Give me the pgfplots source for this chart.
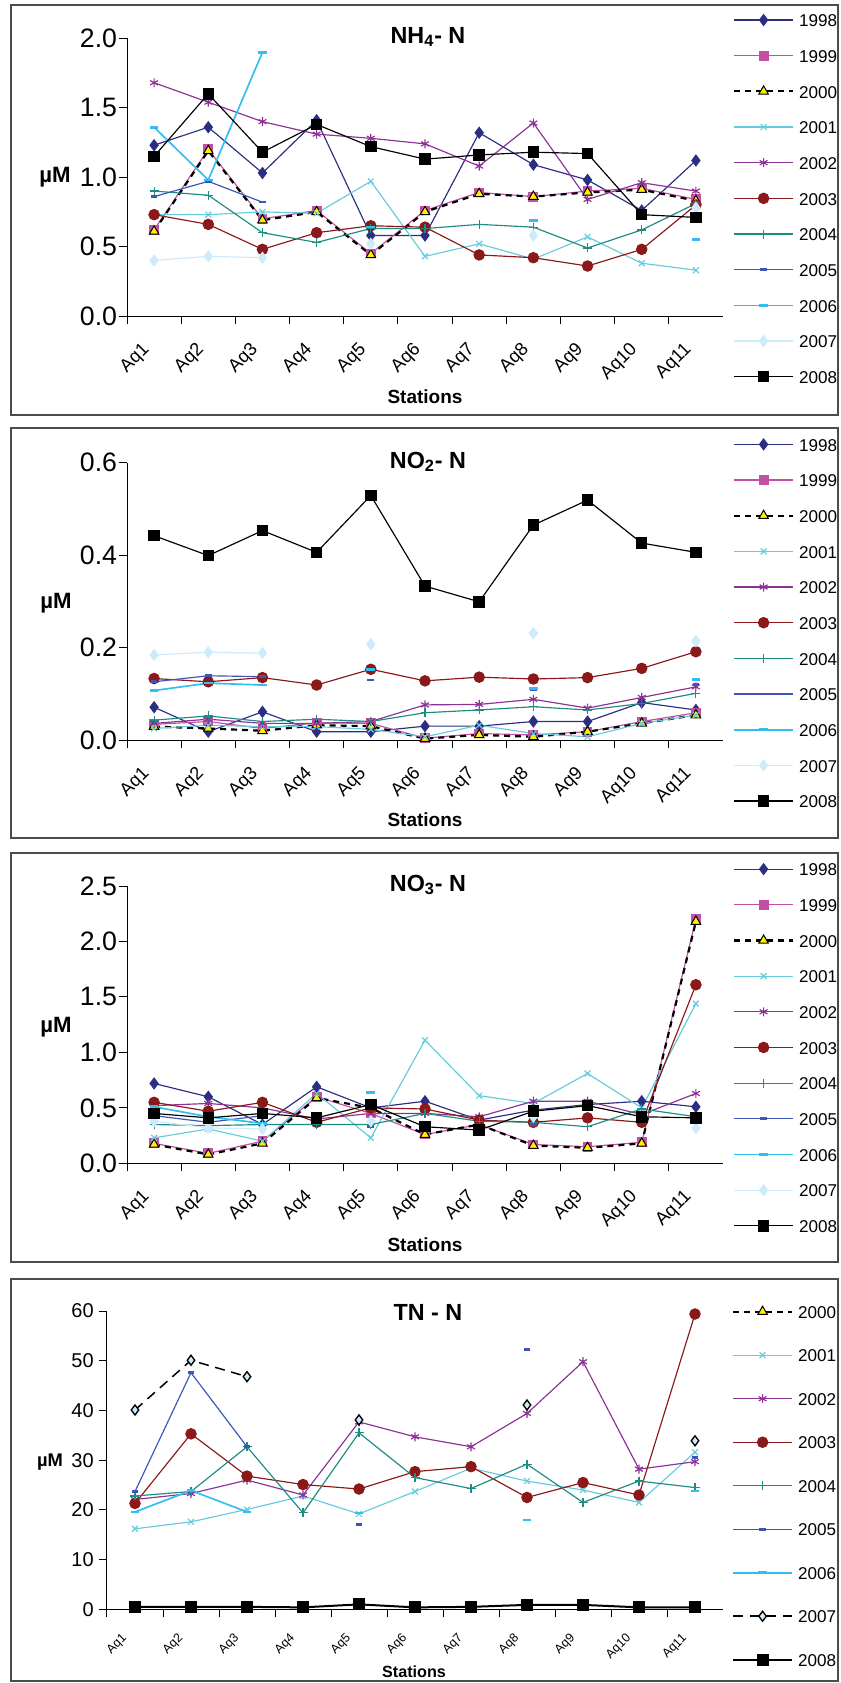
\documentclass[border=0pt]{standalone}
\usepackage{pgfplots}
\pgfplotsset{compat=1.18}
\usepackage{fontspec}
\setmainfont{Liberation Sans}
\definecolor{c98}{RGB}{43,47,130}
\definecolor{c99}{RGB}{196,80,166}
\definecolor{c01}{RGB}{102,204,221}
\definecolor{c02}{RGB}{140,50,150}
\definecolor{c03}{RGB}{140,25,25}
\definecolor{c04}{RGB}{30,140,130}
\definecolor{c05}{RGB}{60,85,185}
\definecolor{c06}{RGB}{50,190,240}
\definecolor{c07}{RGB}{205,235,250}
\definecolor{ytri}{RGB}{255,240,0}
\pgfplotsset{
 xtl/.style n args={3}{xticklabel style={xshift=#1, yshift=#2, rotate=45, anchor=north east, inner sep=0pt, font=\fontsize{#3}{#3}\selectfont}},
 panel/.style={
   scale only axis, anchor=south west, clip=false,
   xmin=0, xmax=11, axis x line*=bottom, axis y line*=left,
   xtick={0,1,2,3,4,5,6,7,8,9,10},
   xticklabels={Aq1,Aq2,Aq3,Aq4,Aq5,Aq6,Aq7,Aq8,Aq9,Aq10,Aq11},
   tick align=outside, major tick length=4.8pt,
   tick style={black, line width=0.6pt},
   axis line style={black, line width=0.6pt},
   /pgf/number format/assume math mode=true,
   yticklabel style={inner sep=1pt, font=\fontsize{16}{18}\selectfont, /pgf/number format/fixed, /pgf/number format/fixed zerofill, /pgf/number format/precision=1},
   unbounded coords=jump,
   legend cell align=left,
   legend style={draw=none, fill=none, inner sep=0pt, outer sep=0pt, font=\fontsize{10.25}{12}\selectfont, column sep=3pt,
     nodes={inner sep=0pt, text height=8pt, text depth=0pt}},
   legend image code/.code={\draw[mark repeat=2,mark phase=2,##1] plot coordinates {(0pt,0pt) (17.7pt,0pt) (35.4pt,0pt)};},
 },
 s98/.style={c98, line width=0.7pt, mark=diamond*, mark size=3.2pt, mark options={solid, fill=c98}},
 s99/.style={c99, line width=0.7pt, mark=square*, mark size=2.6pt, mark options={solid, fill=c99}},
 s00/.style={black, line width=1.3pt, dash pattern=on 3.6pt off 3pt, mark=triangle*, mark size=3.3pt, mark options={solid, fill=ytri, draw=black, line width=0.6pt}},
 s01/.style={c01, line width=0.7pt, mark=x, mark size=2.5pt, mark options={solid}},
 s02/.style={c02, line width=0.7pt, mark=asterisk, mark size=2.7pt, mark options={solid}},
 s03/.style={c03, line width=0.7pt, mark=*, mark size=3.1pt, mark options={solid, fill=c03}},
 s04/.style={c04, line width=0.7pt, mark=+, mark size=2.7pt, mark options={solid}},
 s05/.style={c05, line width=0.7pt, mark=-, mark size=2pt, mark options={solid, line width=1.6pt}},
 s06/.style={c06, line width=1pt, mark=-, mark size=2.6pt, mark options={solid, line width=1.6pt}},
 s07/.style={c07, line width=0.7pt, mark=diamond*, mark size=3.2pt, mark options={solid, fill=c07}},
 s08/.style={black, line width=0.7pt, mark=square*, mark size=3.1pt, mark options={solid, fill=black}},
}
\begin{document}
\begin{tikzpicture}
\useasboundingbox (0pt,0pt) rectangle (504pt,-1009.8pt);
\draw[line width=0.9pt, black!70] (6.6pt,-3pt) rectangle (502.8pt,-249pt);
\draw[line width=0.9pt, black!70] (6.6pt,-256.8pt) rectangle (502.8pt,-502.8pt);
\draw[line width=0.9pt, black!70] (6.6pt,-511.8pt) rectangle (502.8pt,-757.2pt);
\draw[line width=0.9pt, black!70] (6.6pt,-767.4pt) rectangle (502.8pt,-1008.6pt);

% ---------- Panel 1: NH4-N ----------
\begin{axis}[panel, xtl={8.4pt}{-10pt}{11}, at={(76.2pt,-189.6pt)}, width=357.6pt, height=166.6pt,
  ymin=0, ymax=2, ytick={0,0.5,1,1.5,2},
  legend style={at={(1.0168,1.09)}, anchor=north west, row sep=13.4pt}]
\addplot[s98] coordinates {(0.5,1.23)(1.5,1.36)(2.5,1.03)(3.5,1.41)(4.5,0.58)(5.5,0.58)(6.5,1.32)(7.5,1.09)(8.5,0.98)(9.5,0.76)(10.5,1.12)};
\addplot[s99] coordinates {(0.5,0.62)(1.5,1.20)(2.5,0.70)(3.5,0.76)(4.5,0.45)(5.5,0.76)(6.5,0.89)(7.5,0.86)(8.5,0.90)(9.5,0.92)(10.5,0.84)};
\addplot[s00] coordinates {(0.5,0.61)(1.5,1.19)(2.5,0.69)(3.5,0.75)(4.5,0.44)(5.5,0.75)(6.5,0.88)(7.5,0.86)(8.5,0.89)(9.5,0.91)(10.5,0.83)};
\addplot[s01] coordinates {(0.5,0.73)(1.5,0.73)(2.5,0.75)(3.5,0.74)(4.5,0.97)(5.5,0.43)(6.5,0.52)(7.5,0.41)(8.5,0.57)(9.5,0.38)(10.5,0.33)};
\addplot[s02] coordinates {(0.5,1.68)(1.5,1.54)(2.5,1.40)(3.5,1.31)(4.5,1.28)(5.5,1.24)(6.5,1.08)(7.5,1.39)(8.5,0.84)(9.5,0.96)(10.5,0.90)};
\addplot[s03] coordinates {(0.5,0.73)(1.5,0.66)(2.5,0.48)(3.5,0.60)(4.5,0.65)(5.5,0.64)(6.5,0.44)(7.5,0.42)(8.5,0.36)(9.5,0.48)(10.5,0.80)};
\addplot[s04] coordinates {(0.5,0.90)(1.5,0.87)(2.5,0.60)(3.5,0.53)(4.5,0.63)(5.5,0.63)(6.5,0.66)(7.5,0.64)(8.5,0.49)(9.5,0.62)(10.5,0.81)};
\addplot[s05] coordinates {(0.5,0.86)(1.5,0.97)(2.5,0.82)(3.5,nan)(4.5,nan)(5.5,nan)(6.5,nan)(7.5,nan)(8.5,nan)(9.5,nan)(10.5,0.82)};
\addplot[s06] coordinates {(0.5,1.36)(1.5,0.98)(2.5,1.90)(3.5,nan)(4.5,0.64)(5.5,nan)(6.5,nan)(7.5,0.69)(8.5,nan)(9.5,nan)(10.5,0.55)};
\addplot[s07] coordinates {(0.5,0.40)(1.5,0.43)(2.5,0.42)(3.5,nan)(4.5,0.52)(5.5,nan)(6.5,nan)(7.5,0.58)(8.5,nan)(9.5,nan)(10.5,0.78)};
\addplot[s08] coordinates {(0.5,1.15)(1.5,1.60)(2.5,1.18)(3.5,1.38)(4.5,1.22)(5.5,1.13)(6.5,1.16)(7.5,1.18)(8.5,1.17)(9.5,0.73)(10.5,0.71)};
\legend{1998,1999,2000,2001,2002,2003,2004,2005,2006,2007,2008}
\end{axis}
\node[font=\bfseries\fontsize{14}{15}\selectfont] at (256.8pt,-22.2pt) {NH\textsubscript{4}- N};
\node[font=\bfseries\fontsize{11.4}{12}\selectfont] at (255pt,-238.2pt) {Stations};
\node[font=\bfseries\fontsize{13.3}{14}\selectfont] at (33pt,-106.2pt) {µM};

% ---------- Panel 2: NO2-N ----------
\begin{axis}[panel, xtl={8.4pt}{-10pt}{11}, at={(76.2pt,-444pt)}, width=357.6pt, height=166.4pt,
  ymin=0, ymax=0.6, ytick={0,0.2,0.4,0.6},
  legend style={at={(1.0168,1.09)}, anchor=north west, row sep=13.4pt}]
\addplot[s98] coordinates {(0.5,0.071)(1.5,0.018)(2.5,0.061)(3.5,0.018)(4.5,0.018)(5.5,0.030)(6.5,0.030)(7.5,0.040)(8.5,0.040)(9.5,0.081)(10.5,0.065)};
\addplot[s99] coordinates {(0.5,0.034)(1.5,0.040)(2.5,0.025)(3.5,0.037)(4.5,0.036)(5.5,0.004)(6.5,0.014)(7.5,0.011)(8.5,0.018)(9.5,0.040)(10.5,0.059)};
\addplot[s00] coordinates {(0.5,0.029)(1.5,0.025)(2.5,0.020)(3.5,0.032)(4.5,0.030)(5.5,0.003)(6.5,0.011)(7.5,0.007)(8.5,0.018)(9.5,0.036)(10.5,0.054)};
\addplot[s01] coordinates {(0.5,0.025)(1.5,0.032)(2.5,0.029)(3.5,0.029)(4.5,0.023)(5.5,0.007)(6.5,0.032)(7.5,0.014)(8.5,0.007)(9.5,0.036)(10.5,0.054)};
\addplot[s02] coordinates {(0.5,0.036)(1.5,0.045)(2.5,0.036)(3.5,0.036)(4.5,0.040)(5.5,0.076)(6.5,0.077)(7.5,0.088)(8.5,0.069)(9.5,0.092)(10.5,0.115)};
\addplot[s03] coordinates {(0.5,0.133)(1.5,0.126)(2.5,0.135)(3.5,0.119)(4.5,0.153)(5.5,0.128)(6.5,0.136)(7.5,0.132)(8.5,0.135)(9.5,0.155)(10.5,0.191)};
\addplot[s04] coordinates {(0.5,0.043)(1.5,0.052)(2.5,0.040)(3.5,0.045)(4.5,0.040)(5.5,0.059)(6.5,0.065)(7.5,0.072)(8.5,0.065)(9.5,0.079)(10.5,0.101)};
\addplot[s05] coordinates {(0.5,0.126)(1.5,0.139)(2.5,0.137)(3.5,nan)(4.5,0.130)(5.5,nan)(6.5,nan)(7.5,0.110)(8.5,nan)(9.5,nan)(10.5,0.120)};
\addplot[s06] coordinates {(0.5,0.107)(1.5,0.123)(2.5,0.119)(3.5,nan)(4.5,0.153)(5.5,nan)(6.5,nan)(7.5,0.112)(8.5,nan)(9.5,nan)(10.5,0.131)};
\addplot[s07] coordinates {(0.5,0.184)(1.5,0.190)(2.5,0.188)(3.5,nan)(4.5,0.207)(5.5,nan)(6.5,nan)(7.5,0.231)(8.5,nan)(9.5,nan)(10.5,0.214)};
\addplot[s08] coordinates {(0.5,0.442)(1.5,0.399)(2.5,0.453)(3.5,0.406)(4.5,0.529)(5.5,0.333)(6.5,0.299)(7.5,0.465)(8.5,0.519)(9.5,0.426)(10.5,0.406)};
\legend{1998,1999,2000,2001,2002,2003,2004,2005,2006,2007,2008}
\end{axis}
\node[font=\bfseries\fontsize{14}{15}\selectfont] at (256.8pt,-277.2pt) {NO\textsubscript{2}- N};
\node[font=\bfseries\fontsize{11.4}{12}\selectfont] at (255pt,-492pt) {Stations};
\node[font=\bfseries\fontsize{13.3}{14}\selectfont] at (33.6pt,-361.8pt) {µM};

% ---------- Panel 3: NO3-N ----------
\begin{axis}[panel, xtl={8.4pt}{-10pt}{11}, at={(76.2pt,-698pt)}, width=357.6pt, height=166.4pt,
  ymin=0, ymax=2.5, ytick={0,0.5,1,1.5,2,2.5},
  legend style={at={(1.0168,1.085)}, anchor=north west, row sep=13.4pt}]
\addplot[s98] coordinates {(0.5,0.72)(1.5,0.60)(2.5,0.35)(3.5,0.69)(4.5,0.50)(5.5,0.56)(6.5,0.39)(7.5,0.48)(8.5,0.53)(9.5,0.56)(10.5,0.51)};
\addplot[s99] coordinates {(0.5,0.18)(1.5,0.09)(2.5,0.20)(3.5,0.60)(4.5,0.45)(5.5,0.26)(6.5,0.35)(7.5,0.17)(8.5,0.15)(9.5,0.19)(10.5,2.20)};
\addplot[s00] coordinates {(0.5,0.17)(1.5,0.08)(2.5,0.18)(3.5,0.59)(4.5,0.50)(5.5,0.26)(6.5,0.35)(7.5,0.16)(8.5,0.14)(9.5,0.18)(10.5,2.18)};
\addplot[s01] coordinates {(0.5,0.23)(1.5,0.31)(2.5,0.20)(3.5,0.63)(4.5,0.23)(5.5,1.11)(6.5,0.61)(7.5,0.54)(8.5,0.81)(9.5,0.50)(10.5,1.44)};
\addplot[s02] coordinates {(0.5,0.52)(1.5,0.54)(2.5,0.50)(3.5,0.40)(4.5,0.45)(5.5,0.45)(6.5,0.42)(7.5,0.56)(8.5,0.56)(9.5,0.44)(10.5,0.63)};
\addplot[s03] coordinates {(0.5,0.55)(1.5,0.47)(2.5,0.55)(3.5,0.37)(4.5,0.50)(5.5,0.49)(6.5,0.39)(7.5,0.37)(8.5,0.41)(9.5,0.37)(10.5,1.61)};
\addplot[s04] coordinates {(0.5,0.35)(1.5,0.34)(2.5,0.35)(3.5,0.35)(4.5,0.35)(5.5,0.45)(6.5,0.38)(7.5,0.37)(8.5,0.33)(9.5,0.49)(10.5,0.42)};
\addplot[s05] coordinates {(0.5,0.43)(1.5,0.37)(2.5,0.43)(3.5,nan)(4.5,0.33)(5.5,nan)(6.5,nan)(7.5,0.35)(8.5,nan)(9.5,nan)(10.5,0.45)};
\addplot[s06] coordinates {(0.5,0.51)(1.5,0.42)(2.5,0.36)(3.5,nan)(4.5,0.64)(5.5,nan)(6.5,nan)(7.5,0.51)(8.5,nan)(9.5,nan)(10.5,0.45)};
\addplot[s07] coordinates {(0.5,0.38)(1.5,0.32)(2.5,0.31)(3.5,nan)(4.5,0.38)(5.5,nan)(6.5,nan)(7.5,0.42)(8.5,nan)(9.5,nan)(10.5,0.32)};
\addplot[s08] coordinates {(0.5,0.45)(1.5,0.41)(2.5,0.45)(3.5,0.41)(4.5,0.53)(5.5,0.33)(6.5,0.30)(7.5,0.47)(8.5,0.52)(9.5,0.42)(10.5,0.41)};
\legend{1998,1999,2000,2001,2002,2003,2004,2005,2006,2007,2008}
\end{axis}
\node[font=\bfseries\fontsize{14}{15}\selectfont] at (256.8pt,-531pt) {NO\textsubscript{3}- N};
\node[font=\bfseries\fontsize{11.4}{12}\selectfont] at (255pt,-747pt) {Stations};
\node[font=\bfseries\fontsize{13.3}{14}\selectfont] at (33.6pt,-616.2pt) {µM};

% ---------- Panel 4: TN-N ----------
\begin{axis}[panel, xtl={8.4pt}{-9pt}{7.5}, at={(64.2pt,-965.6pt)}, width=369.6pt, height=179pt,
  ymin=0, ymax=60, ytick={0,10,20,30,40,50,60},
  yticklabel style={inner sep=3pt, font=\fontsize{12}{13}\selectfont, /pgf/number format/precision=0, /pgf/number format/fixed zerofill=false},
  legend style={at={(1.0146,1.02)}, anchor=north west, row sep=18.1pt}]
\addlegendimage{s00}
\addplot[s01] coordinates {(0.5,16.2)(1.5,17.6)(2.5,20.1)(3.5,22.8)(4.5,19.2)(5.5,23.7)(6.5,28.4)(7.5,25.8)(8.5,24.0)(9.5,21.5)(10.5,31.6)};
\addplot[s02] coordinates {(0.5,22.1)(1.5,23.3)(2.5,26.0)(3.5,23.0)(4.5,37.7)(5.5,34.7)(6.5,32.7)(7.5,39.4)(8.5,49.8)(9.5,28.2)(10.5,29.7)};
\addplot[s03] coordinates {(0.5,21.3)(1.5,35.3)(2.5,26.8)(3.5,25.1)(4.5,24.2)(5.5,27.7)(6.5,28.7)(7.5,22.5)(8.5,25.5)(9.5,23.0)(10.5,59.4)};
\addplot[s04] coordinates {(0.5,22.8)(1.5,23.7)(2.5,32.7)(3.5,19.4)(4.5,35.5)(5.5,26.5)(6.5,24.3)(7.5,29.2)(8.5,21.5)(9.5,25.8)(10.5,24.5)};
\addplot[s05] coordinates {(0.5,23.7)(1.5,47.6)(2.5,32.7)(3.5,nan)(4.5,17.1)(5.5,nan)(6.5,nan)(7.5,52.3)(8.5,nan)(9.5,nan)(10.5,30.5)};
\addplot[s06] coordinates {(0.5,19.6)(1.5,23.9)(2.5,19.6)(3.5,nan)(4.5,19.4)(5.5,nan)(6.5,nan)(7.5,18.0)(8.5,nan)(9.5,nan)(10.5,23.8)};
\addplot[black, line width=0.9pt, dash pattern=on 6pt off 4pt, mark=diamond*, mark size=3pt, mark options={solid, fill=c07, draw=black, line width=0.8pt}] coordinates {(0.5,40.1)(1.5,50.1)(2.5,46.8)(3.5,nan)(4.5,38.1)(5.5,nan)(6.5,nan)(7.5,41.1)(8.5,nan)(9.5,nan)(10.5,33.9)};
\addplot[black, line width=1.2pt, mark=square*, mark size=3pt, mark options={solid, fill=black}] coordinates {(0.5,0.5)(1.5,0.5)(2.5,0.5)(3.5,0.4)(4.5,1.0)(5.5,0.4)(6.5,0.5)(7.5,0.9)(8.5,0.9)(9.5,0.4)(10.5,0.4)};
\legend{2000,2001,2002,2003,2004,2005,2006,2007,2008}
\end{axis}
\node[font=\bfseries\fontsize{14}{15}\selectfont] at (256.8pt,-787.2pt) {TN - N};
\node[font=\bfseries\fontsize{9.7}{11}\selectfont] at (248.4pt,-1003.2pt) {Stations};
\node[font=\bfseries\fontsize{11}{12}\selectfont] at (30pt,-877.2pt) {µM};
\end{tikzpicture}
\end{document}
